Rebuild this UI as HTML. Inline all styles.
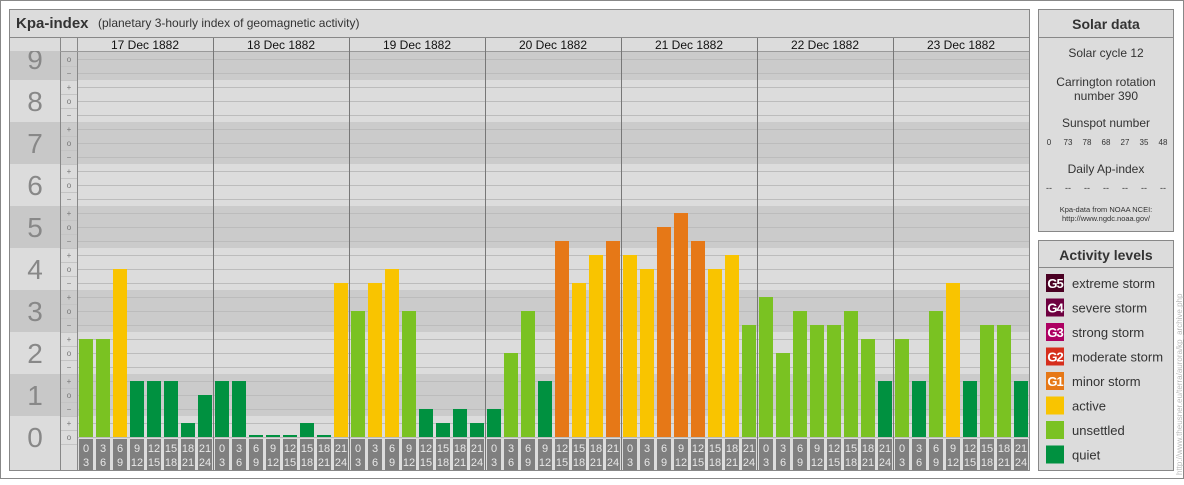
<!DOCTYPE html>
<html><head><meta charset="utf-8"><style>
body{margin:0;background:#fff}
svg text{font-family:"Liberation Sans",sans-serif}
</style></head><body>
<svg id="chart" width="1184" height="480" viewBox="0 0 1184 480" xmlns="http://www.w3.org/2000/svg">
<rect x="0.5" y="0.5" width="1183" height="478" fill="#fff" stroke="#888"/>
<g>
<rect x="9.5" y="9.5" width="1020" height="461" fill="#dcdcdc" stroke="#888"/>
<line x1="10" y1="37.5" x2="1029" y2="37.5" stroke="#888"/>
<text x="16" y="28" font-size="15" font-weight="bold" fill="#333">Kpa-index</text>
<text x="98" y="27" font-size="12" fill="#333">(planetary 3-hourly index of geomagnetic activity)</text>
<g id="grid"></g>
<g id="bars"></g>
<g id="labels"></g>
</g>
<g>
<rect x="1038.5" y="9.5" width="135" height="222" fill="#dcdcdc" stroke="#888"/>
<line x1="1039" y1="37.5" x2="1173" y2="37.5" stroke="#888"/>
<text x="1106" y="29" font-size="14" font-weight="bold" fill="#333" text-anchor="middle">Solar data</text>
<text x="1106" y="57" font-size="12" fill="#333" text-anchor="middle">Solar cycle 12</text>
<text x="1106" y="86" font-size="12" fill="#333" text-anchor="middle">Carrington rotation</text>
<text x="1106" y="100" font-size="12" fill="#333" text-anchor="middle">number 390</text>
<text x="1106" y="127" font-size="12" fill="#333" text-anchor="middle">Sunspot number</text>
<g id="ssn" font-size="8" fill="#333" text-anchor="middle"></g>
<text x="1106" y="173" font-size="12" fill="#333" text-anchor="middle">Daily Ap-index</text>
<g id="ap" font-size="9" fill="#333" text-anchor="middle"></g>
<text x="1106" y="212" font-size="7.5" fill="#333" text-anchor="middle">Kpa-data from NOAA NCEI:</text>
<text x="1106" y="221" font-size="7.5" fill="#333" text-anchor="middle">http://www.ngdc.noaa.gov/</text>
</g>
<g>
<rect x="1038.5" y="240.5" width="135" height="230" fill="#dcdcdc" stroke="#888"/>
<line x1="1039" y1="267.5" x2="1173" y2="267.5" stroke="#888"/>
<text x="1106" y="260" font-size="14" font-weight="bold" fill="#333" text-anchor="middle">Activity levels</text>
<g id="legend"></g>
</g>
<text transform="translate(1182,475) rotate(-90)" font-size="8" fill="#bbb">http://www.theusner.eu/terra/aurora/kp_archive.php</text>
</svg>
<script>
const days=["17 Dec 1882","18 Dec 1882","19 Dec 1882","20 Dec 1882","21 Dec 1882","22 Dec 1882","23 Dec 1882"];
const kpValues=[2.333,2.333,4,1.333,1.333,1.333,0.333,1,
1.333,1.333,0,0,0,0.333,0,3.667,
3,3.667,4,3,0.667,0.333,0.667,0.333,
0.667,2,3,1.333,4.667,3.667,4.333,4.667,
4.333,4,5,5.333,4.667,4,4.333,2.667,
3.333,2,3,2.667,2.667,3,2.333,1.333,
2.333,1.333,3,3.667,1.333,2.667,2.667,1.333];
const hourStart=["0","3","6","9","12","15","18","21"];
const hourEnd=["3","6","9","12","15","18","21","24"];
const sunspots=["0","73","78","68","27","35","48"];
const apValues=["--","--","--","--","--","--","--"];
const NS="http://www.w3.org/2000/svg";
function mk(tag,attrs,parent,txt){const e=document.createElementNS(NS,tag);for(const k in attrs)e.setAttribute(k,attrs[k]);if(txt!==undefined)e.textContent=txt;parent.appendChild(e);return e;}
const X0=77,DW=136,SW=17;
const y=k=>437-42*k;
const grid=document.getElementById('grid'),bars=document.getElementById('bars'),labels=document.getElementById('labels');
// bands
for(let k=0;k<=9;k++){
 const t=Math.max(51,y(k+0.5)),b=Math.min(470,y(k-0.5));
 const dark=k%2===1;
 const r=mk('rect',{x:10,y:t,width:1019,height:b-t,fill:dark?'#cbcbcb':'#dcdcdc'},grid);
 
 
 const lb=mk('rect',{x:10,y:t,width:50,height:b-t,fill:dark?'#c8c8c8':'#dcdcdc'},grid);
 const tx=mk('text',{x:35,y:y(k)+10,'font-size':28,fill:'#888','text-anchor':'middle'},grid,String(k));
 
 
}
mk('rect',{x:10,y:38,width:1019,height:13,fill:'#dcdcdc'},grid);
for(let j=0;j<=28;j++){
 const yy=y(j/3);
 if(yy<52)continue;
 mk('line',{x1:X0,x2:1029,y1:yy+0.5,y2:yy+0.5,stroke:'#bcbcbc'},grid);
 mk('line',{x1:60,x2:77,y1:yy+7.5,y2:yy+7.5,stroke:'#c4c4c4'},grid);
 const m=j%3; const sym=m===0?'o':(m===1?'+':'\u2212');
 mk('text',{x:69,y:yy+3,'font-size':8,fill:'#777','text-anchor':'middle'},grid,sym);
}
mk('line',{x1:60.5,x2:60.5,y1:38,y2:470,stroke:'#888'},grid);
mk('line',{x1:77.5,x2:77.5,y1:38,y2:470,stroke:'#888'},grid);
mk('line',{x1:60,x2:1029,y1:51.5,y2:51.5,stroke:'#999'},grid);
days.forEach((d,i)=>{
 const x=X0+i*DW;
 if(i>0)mk('line',{x1:x+0.5,x2:x+0.5,y1:38,y2:470,stroke:'#777'},grid);
 const t=mk('text',{x:x+DW/2,y:49,'font-size':12,fill:'#111','text-anchor':'middle'},grid,d);
 
 
});
function color(v){if(v<1.8)return'#009140';if(v<3.5)return'#7ac222';if(v<4.5)return'#f9c400';return'#e67817';}
kpValues.forEach((v,i)=>{
 const x=X0+i*SW+2;
 const h=Math.max(2,437-y(v));
 const r=mk('rect',{x:x,y:437-h,width:14,height:h,fill:color(v)},bars);
 
 
 const s=i%8;
 const bx=mk('rect',{x:x,y:439,width:14,height:31,fill:'#7f7f7f'},labels);
 
 
 mk('text',{x:x+7,y:452,'font-size':11,fill:'#e8e8e8','text-anchor':'middle'},labels,hourStart[s]);
 mk('text',{x:x+7,y:466,'font-size':11,fill:'#e8e8e8','text-anchor':'middle'},labels,hourEnd[s]);
});
const ssn=document.getElementById('ssn');
sunspots.forEach((s,i)=>{const t=mk('text',{x:1049+i*19,y:145},ssn,s);});
const ap=document.getElementById('ap');
apValues.forEach((s,i)=>{const t=mk('text',{x:1049+i*19,y:191},ap,s);});
const legNames=["extreme storm","severe storm","strong storm","moderate storm","minor storm","active","unsettled","quiet"];
const legCodes=["G5","G4","G3","G2","G1","","",""];
const legColors=["#4a0023","#6e0040","#ad0062","#d62e1c","#e67817","#f9c400","#7ac222","#009140"];
const leg=document.getElementById('legend');
legNames.forEach((n,i)=>{
 const yy=274+i*24.5;
 const g=mk('g',{},leg);
 
 
 mk('rect',{x:1046,y:yy,width:18,height:18,fill:legColors[i]},g);
 if(legCodes[i])mk('text',{x:1055,y:yy+14,'font-size':13,'font-weight':'bold',fill:'#fff','text-anchor':'middle','letter-spacing':'-1'},g,legCodes[i]);
 mk('text',{x:1072,y:yy+14,'font-size':13,fill:'#333'},g,n);
});
</script>
</body></html>
